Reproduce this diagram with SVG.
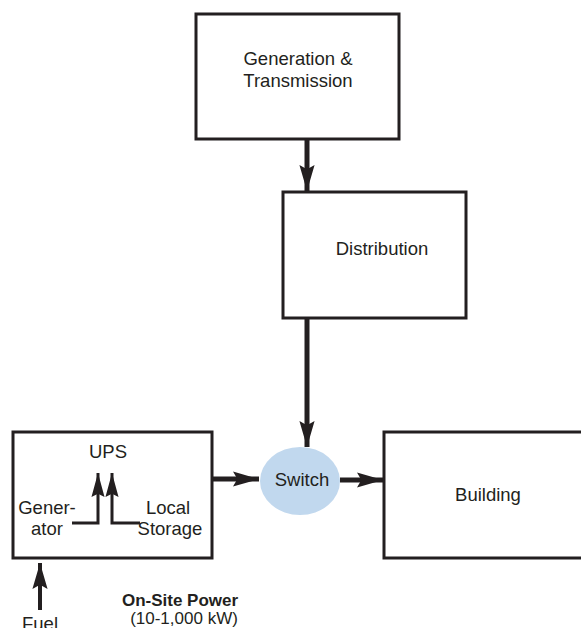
<svg xmlns="http://www.w3.org/2000/svg" width="581" height="628" viewBox="0 0 581 628">
<style>
.box{fill:#fff;stroke:#231f20;stroke-width:3}
.t{font-family:"Liberation Sans",Arial,sans-serif;font-size:18.5px;fill:#231f20;text-anchor:middle}
.sm{font-size:17px}
.b{font-weight:bold}
.c{fill:none;stroke:#231f20;stroke-width:5}
.cs{fill:none;stroke:#231f20;stroke-width:3}
</style>
<defs>
<marker id="ah" markerUnits="userSpaceOnUse" markerWidth="26" markerHeight="16" viewBox="0 0 24 14" refX="24" refY="7" orient="auto">
<path d="M0,0 L24,7 L0,14 L4,7 Z" fill="#231f20"/>
</marker>
<marker id="ahs" markerUnits="userSpaceOnUse" markerWidth="24" markerHeight="14" viewBox="0 0 22 12" refX="22" refY="6" orient="auto">
<path d="M0,0 L22,6 L0,12 L3,6 Z" fill="#231f20"/>
</marker>
</defs>
<rect width="581" height="628" fill="#fff"/>
<g id="generation">
<rect class="box" x="196" y="14" width="203" height="125"/>
<text class="t" x="298" y="65">Generation &amp;</text>
<text class="t" x="298" y="87">Transmission</text>
</g>
<g id="distribution">
<rect class="box" x="283" y="192" width="183" height="126"/>
<text class="t" x="382" y="255">Distribution</text>
</g>
<g id="switch">
<ellipse cx="300" cy="481" rx="40" ry="34" fill="#c1d8ee"/>
<text class="t" x="302" y="486">Switch</text>
</g>
<g id="building">
<rect class="box" x="384" y="432" width="205" height="126"/>
<text class="t" x="488" y="501">Building</text>
</g>
<g id="onsite">
<rect class="box" x="13" y="432" width="199" height="126"/>
<text class="t" x="108" y="458">UPS</text>
<text class="t" x="47" y="514">Gener-</text>
<text class="t" x="47" y="535">ator</text>
<text class="t" x="168" y="514">Local</text>
<text class="t" x="170" y="535">Storage</text>
</g>
<g id="fuel">
<text class="t" x="40" y="630">Fuel</text>
</g>
<g id="label">
<text class="t b sm" x="180" y="606">On-Site Power</text>
<text class="t sm" x="184" y="624">(10-1,000 kW)</text>
</g>
<g id="connectors">
<line class="c" x1="307" y1="139" x2="307" y2="191" marker-end="url(#ah)"/>
<line class="c" x1="307" y1="318" x2="307" y2="447" marker-end="url(#ah)"/>
<line class="c" x1="212" y1="479" x2="259" y2="479" marker-end="url(#ah)"/>
<line class="c" x1="340" y1="480" x2="383" y2="480" marker-end="url(#ah)"/>
<line class="c" style="stroke-width:4" x1="40" y1="610" x2="40" y2="563" marker-end="url(#ah)"/>
<polyline class="cs" points="72,523 98,523 98,473" marker-end="url(#ahs)"/>
<polyline class="cs" points="140,523 112,523 112,473" marker-end="url(#ahs)"/>
</g>
</svg>
